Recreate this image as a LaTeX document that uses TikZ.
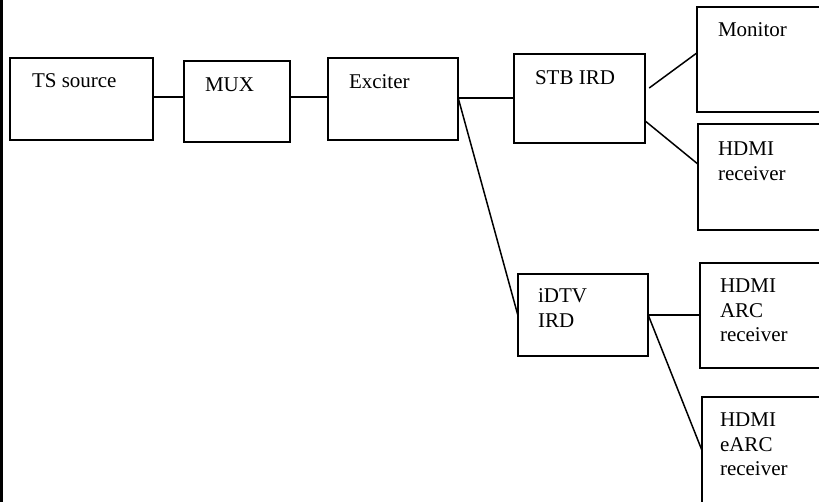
\documentclass[tikz,border=0pt]{standalone}
\usepackage{fontspec}
\setmainfont{Liberation Serif}
\usetikzlibrary{calc}
\begin{document}
\begin{tikzpicture}[x=1pt,y=-1pt,
  box/.style={draw,line width=1.5pt,inner sep=0pt},
  lbl/.style={anchor=base west,inner sep=0pt,font=\fontsize{21}{24.5}\selectfont},
  wire/.style={line width=1.5pt}]
\useasboundingbox (0,0) rectangle (819,502);
\clip (0,0) rectangle (819,502);
\fill[black] (0,0) rectangle (3,502);
\newcommand{\bx}[5]{\path[box] (#2,#3) rectangle (#4,#5);
  \node[inner sep=0pt,minimum width={#4-#2},minimum height={#5-#3}] (#1) at ({(#2+#4)/2},{(#3+#5)/2}) {};}
\newcommand{\ml}[1]{\parbox[t]{4cm}{\raggedright #1}}
\bx{ts}{10}{58}{153}{140}
\bx{mux}{184}{61}{290}{142}
\bx{exc}{328}{58}{458}{140}
\bx{stb}{514}{54}{645}{143}
\bx{mon}{697}{7}{840}{112}
\bx{hrx}{698}{124}{840}{230}
\bx{idtv}{518}{274}{648}{356}
\bx{arc}{700}{263}{840}{368}
\bx{earc}{702}{397}{840}{530}
\node[lbl] (tsl) at ($(ts.north west)+(22,30)$) {TS source};
\node[lbl] (muxl) at ($(mux.north west)+(21,31)$) {MUX};
\node[lbl] (excl) at ($(exc.north west)+(21,31)$) {Exciter};
\node[lbl] (stbl) at ($(stb.north west)+(21,31)$) {STB IRD};
\node[lbl] (monl) at ($(mon.north west)+(21,30)$) {Monitor};
\node[lbl] (hrxl) at ($(hrx.north west)+(20,32)$) {\ml{HDMI\\receiver}};
\node[lbl] (idtvl) at ($(idtv.north west)+(20,29)$) {\ml{iDTV\\IRD}};
\node[lbl] (arcl) at ($(arc.north west)+(20,30)$) {\ml{HDMI\\ARC\\receiver}};
\node[lbl] (earcl) at ($(earc.north west)+(18,30)$) {\ml{HDMI\\eARC\\receiver}};
\coordinate (j) at (exc.east |- 0,98);
\draw[wire] (ts.east |- 0,97) -- (mux.west |- 0,97);
\draw[wire] (mux.east |- 0,97) -- (exc.west |- 0,97);
\draw[wire] (j) -- (stb.west |- j);
\draw[wire] (j) -- (idtv.west);
\draw[wire] ([xshift=4pt]stb.east |- 0,88) -- (mon.west |- 0,53);
\draw[wire] (stb.east |- 0,121) -- (hrx.west |- 0,164);
\draw[wire] (idtv.east) -- (arc.west |- idtv.east);
\draw[wire] (idtv.east) -- (earc.west |- 0,450);
\end{tikzpicture}
\end{document}
